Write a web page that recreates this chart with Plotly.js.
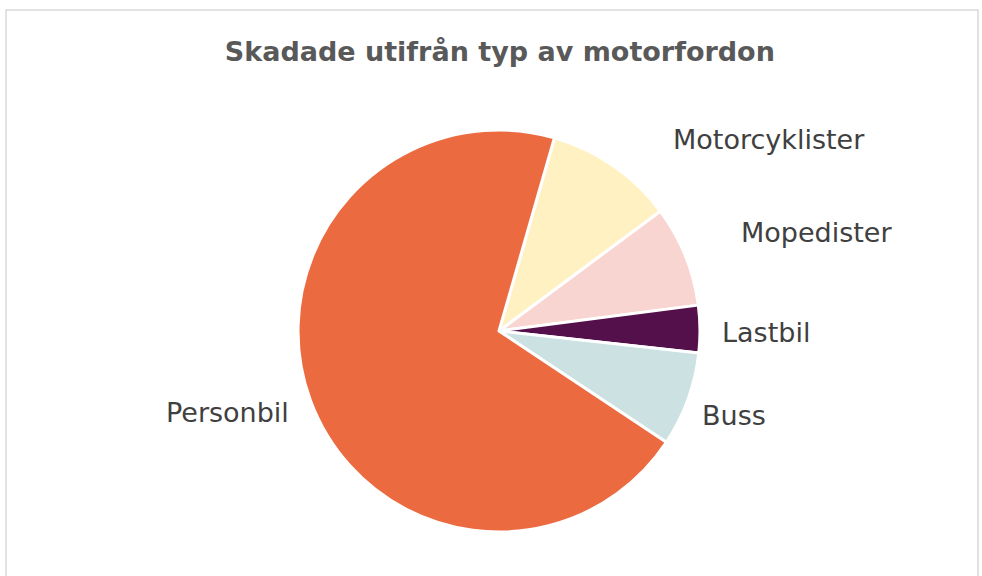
<!DOCTYPE html>
<html>
<head>
<meta charset="utf-8">
<script src="https://cdn.plot.ly/plotly-3.0.1.min.js"></script>
<style>html,body{margin:0;padding:0;background:#fff;}#chart{width:982px;height:576px;}</style>
</head>
<body>
<div id="chart"></div>
<script>
const categories = ["Motorcyklister", "Mopedister", "Lastbil", "Buss", "Personbil"];
const values = [10.4, 8.1, 3.8, 7.6, 70.1];
const colors = ["#FFF1C1", "#F9D5D1", "#54104A", "#CCE1E1", "#EC6A3F"];
const chartTitle = "Skadade utifrån typ av motorfordon";

const W = 982, H = 576;
// label placement (pixels): [x, y, anchor]
const labelPlace = [[671, 139, "left"], [739, 233, "left"], [720, 332, "left"], [700, 415, "left"], [291, 412, "right"]];

const trace = {
  type: "pie",
  labels: categories,
  values: values,
  sort: false,
  direction: "clockwise",
  rotation: 16,
  marker: {colors: colors, line: {color: "#ffffff", width: 3}},
  textinfo: "none",
  hoverinfo: "label+value",
  showlegend: false,
  automargin: false,
  domain: {x: [0.3035, 0.7128], y: [0.0764, 0.7743]}
};

const annotations = categories.map((c, i) => ({
  text: c, xref: "paper", yref: "paper",
  x: labelPlace[i][0] / W, y: 1 - labelPlace[i][1] / H,
  xanchor: labelPlace[i][2], yanchor: "middle", showarrow: false,
  font: {family: "DejaVu Sans, sans-serif", size: 27, color: "#404040"}
}));

const layout = {
  width: W, height: H,
  margin: {l: 0, r: 0, t: 0, b: 0},
  paper_bgcolor: "#ffffff",
  title: {text: "<b>" + chartTitle + "</b>", x: 0.509, xanchor: "center", y: 0.91, yanchor: "middle",
          font: {family: "DejaVu Sans, sans-serif", size: 27, color: "#595959"}},
  annotations: annotations,
  shapes: [{type: "rect", xref: "paper", yref: "paper", x0: 6/W, x1: 978/W, y0: -0.02, y1: 1 - 10/H,
            line: {color: "#d9d9d9", width: 1.5}, fillcolor: "rgba(0,0,0,0)"}]
};

Plotly.newPlot("chart", [trace], layout, {displayModeBar: false});
</script>
</body>
</html>
